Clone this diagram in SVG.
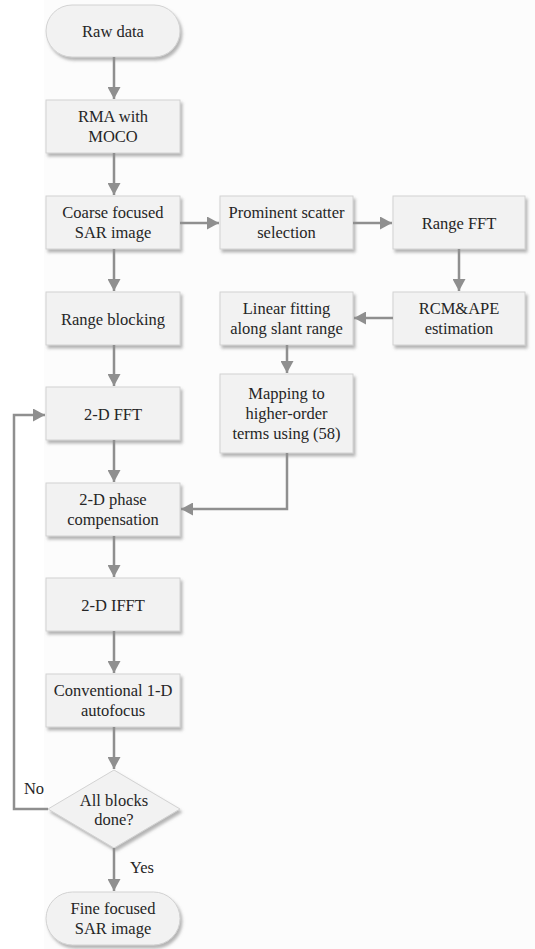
<svg xmlns="http://www.w3.org/2000/svg" width="535" height="949" viewBox="0 0 535 949">
<defs>
<filter id="sh" x="-10%" y="-10%" width="130%" height="140%">
<feDropShadow dx="2" dy="3" stdDeviation="1.5" flood-color="#7a7a7a" flood-opacity="0.55"/>
</filter>
<marker id="ah" markerUnits="userSpaceOnUse" markerWidth="13" markerHeight="13" refX="12" refY="6.5" orient="auto">
<path d="M0,0 L12,6.5 L0,13 Z" fill="#8f8f8f"/>
</marker>
</defs>
<style>
.box{fill:#f2f2f2;stroke:#d2d2d2;stroke-width:1;filter:url(#sh)}
.c{fill:none;stroke:#8f8f8f;stroke-width:2.5;marker-end:url(#ah)}
</style>
<rect x="44" y="0" width="491" height="949" fill="#fcfcfc"/>
<g font-family="Liberation Serif, DejaVu Serif, serif" font-size="16.5" fill="#262626" text-anchor="middle">
<g id="n-raw"><rect class="box" x="46" y="5" width="134" height="52" rx="26" ry="26"/><text x="113" y="37">Raw data</text></g>
<g id="n-rma"><rect class="box" x="46" y="100" width="134" height="53"/><text x="113" y="122">RMA with</text><text x="113" y="142">MOCO</text></g>
<g id="n-coarse"><rect class="box" x="46" y="196" width="134" height="53"/><text x="113" y="218">Coarse focused</text><text x="113" y="238">SAR image</text></g>
<g id="n-prom"><rect class="box" x="220" y="196" width="133" height="53"/><text x="286.5" y="218">Prominent scatter</text><text x="286.5" y="238">selection</text></g>
<g id="n-rfft"><rect class="box" x="393" y="196" width="132" height="53"/><text x="459" y="228.5">Range FFT</text></g>
<g id="n-rcm"><rect class="box" x="393" y="292" width="132" height="53"/><text x="459" y="314">RCM&amp;APE</text><text x="459" y="334">estimation</text></g>
<g id="n-lin"><rect class="box" x="220" y="292" width="133" height="53"/><text x="286.5" y="314">Linear fitting</text><text x="286.5" y="334">along slant range</text></g>
<g id="n-block"><rect class="box" x="46" y="292" width="134" height="53"/><text x="113" y="324.5">Range blocking</text></g>
<g id="n-map"><rect class="box" x="220" y="374" width="133" height="79"/><text x="286.5" y="399">Mapping to</text><text x="286.5" y="419">higher-order</text><text x="286.5" y="439">terms using (58)</text></g>
<g id="n-fft"><rect class="box" x="46" y="387" width="134" height="53"/><text x="113" y="419.5">2-D FFT</text></g>
<g id="n-phase"><rect class="box" x="46" y="483" width="134" height="53"/><text x="113" y="505">2-D phase</text><text x="113" y="525">compensation</text></g>
<g id="n-ifft"><rect class="box" x="46" y="578" width="134" height="53"/><text x="113" y="610.5">2-D IFFT</text></g>
<g id="n-auto"><rect class="box" x="46" y="674" width="134" height="53"/><text x="113" y="696">Conventional 1-D</text><text x="113" y="716">autofocus</text></g>
<g id="n-dec"><path class="box" d="M114,770 L180,809 L114,848 L48,809 Z"/><text x="114" y="806">All blocks</text><text x="114" y="825">done?</text></g>
<g id="n-fine"><rect class="box" x="46" y="892" width="134" height="53" rx="26.5" ry="26.5"/><text x="113" y="914">Fine focused</text><text x="113" y="934">SAR image</text></g>
<g id="connectors">
<path class="c" d="M114,57 V99"/>
<path class="c" d="M114,153 V195"/>
<path class="c" d="M114,249 V291"/>
<path class="c" d="M114,345 V386"/>
<path class="c" d="M114,440 V482"/>
<path class="c" d="M114,536 V577"/>
<path class="c" d="M114,631 V673"/>
<path class="c" d="M114,727 V769"/>
<path class="c" d="M114,848 V891"/>
<path class="c" d="M180,223 H219"/>
<path class="c" d="M353,223 H392"/>
<path class="c" d="M459,249 V291"/>
<path class="c" d="M393,318 H354"/>
<path class="c" d="M287,345 V373"/>
<path class="c" d="M287,453 V509 H181"/>
<path class="c" d="M48,809 H14 V415 H45"/>
<text x="34" y="794">No</text>
<text x="142" y="873">Yes</text>
</g>
</g>
</svg>
